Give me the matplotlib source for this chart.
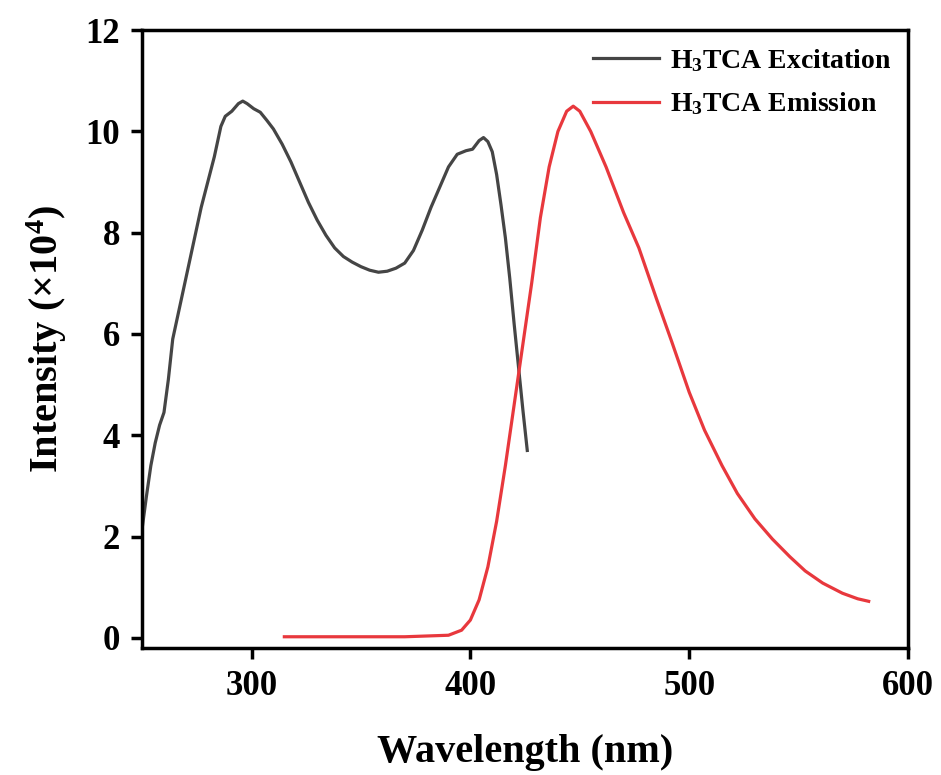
import matplotlib
matplotlib.use("Agg")
import matplotlib.pyplot as plt

# excitation spectrum (nm, intensity x1e4)
ex_wl = [250, 252, 254, 256, 258, 260, 262, 264, 266, 268, 271, 274, 277, 280, 283,
         286, 288, 291, 294, 296, 298, 301, 304, 307, 310, 314, 318, 322, 326, 330,
         334, 338, 342, 346, 350, 354, 358, 362, 366, 370, 374, 378, 382, 386, 390,
         394, 398, 401, 404, 406, 408, 410, 412, 414, 416, 418, 420, 422, 424, 426]
ex_int = [2.15, 2.8, 3.4, 3.85, 4.2, 4.45, 5.1, 5.9, 6.3, 6.7, 7.3, 7.9, 8.5, 9.0, 9.5,
          10.1, 10.3, 10.4, 10.55, 10.6, 10.55, 10.45, 10.38, 10.22, 10.05, 9.75, 9.4, 9.0, 8.6, 8.25,
          7.95, 7.7, 7.53, 7.42, 7.33, 7.26, 7.22, 7.24, 7.3, 7.4, 7.65, 8.05, 8.5, 8.9, 9.3,
          9.55, 9.62, 9.65, 9.82, 9.88, 9.8, 9.6, 9.15, 8.55, 7.9, 7.1, 6.2, 5.35, 4.5, 3.7]

# emission spectrum
em_wl = [315, 340, 370, 390, 396, 400, 404, 408, 412, 416, 420, 424, 428, 432, 436,
         440, 444, 447, 450, 455, 462, 470, 477, 485, 492, 500, 507, 515, 522, 530,
         538, 546, 553, 561, 570, 577, 582]
em_int = [0.02, 0.02, 0.02, 0.05, 0.15, 0.35, 0.75, 1.4, 2.3, 3.4, 4.6, 5.8, 7.0, 8.3, 9.3,
          10.0, 10.4, 10.5, 10.4, 10.0, 9.3, 8.4, 7.7, 6.7, 5.85, 4.85, 4.1, 3.4, 2.85, 2.35,
          1.95, 1.6, 1.32, 1.08, 0.88, 0.77, 0.72]

plt.rcParams['font.family'] = ['Liberation Serif', 'DejaVu Serif']
plt.rcParams['font.weight'] = 'bold'
plt.rcParams['mathtext.fontset'] = 'custom'
plt.rcParams['mathtext.rm'] = 'Liberation Serif:bold'
plt.rcParams['mathtext.default'] = 'rm'

fig = plt.figure(figsize=(9.41, 7.75), dpi=100)
ax = fig.add_axes([0.151, 0.164, 0.814, 0.797])

ax.plot(ex_wl, ex_int, color='#454545', lw=2.3, label='H$_3$TCA Excitation')
ax.plot(em_wl, em_int, color='#e8383d', lw=2.3, label='H$_3$TCA Emission')

ax.set_xlim(250, 600)
ax.set_ylim(-0.2, 12)
ax.set_xticks([300, 400, 500, 600])
ax.set_yticks([0, 2, 4, 6, 8, 10, 12])

for s in ax.spines.values():
    s.set_linewidth(2.5)
ax.tick_params(direction='out', length=8, width=2.5, labelsize=25, pad=8)

ax.set_xlabel('Wavelength (nm)', fontsize=29, fontweight='bold', labelpad=22)
ax.set_ylabel('Intensity (×10$^4$)', fontsize=29, fontweight='bold', labelpad=12)

ax.legend(loc='upper right', frameon=False, fontsize=20, handlelength=2.4,
          handletextpad=0.4, labelspacing=0.6, borderaxespad=0.2)

fig.savefig('out.png', dpi=100)
